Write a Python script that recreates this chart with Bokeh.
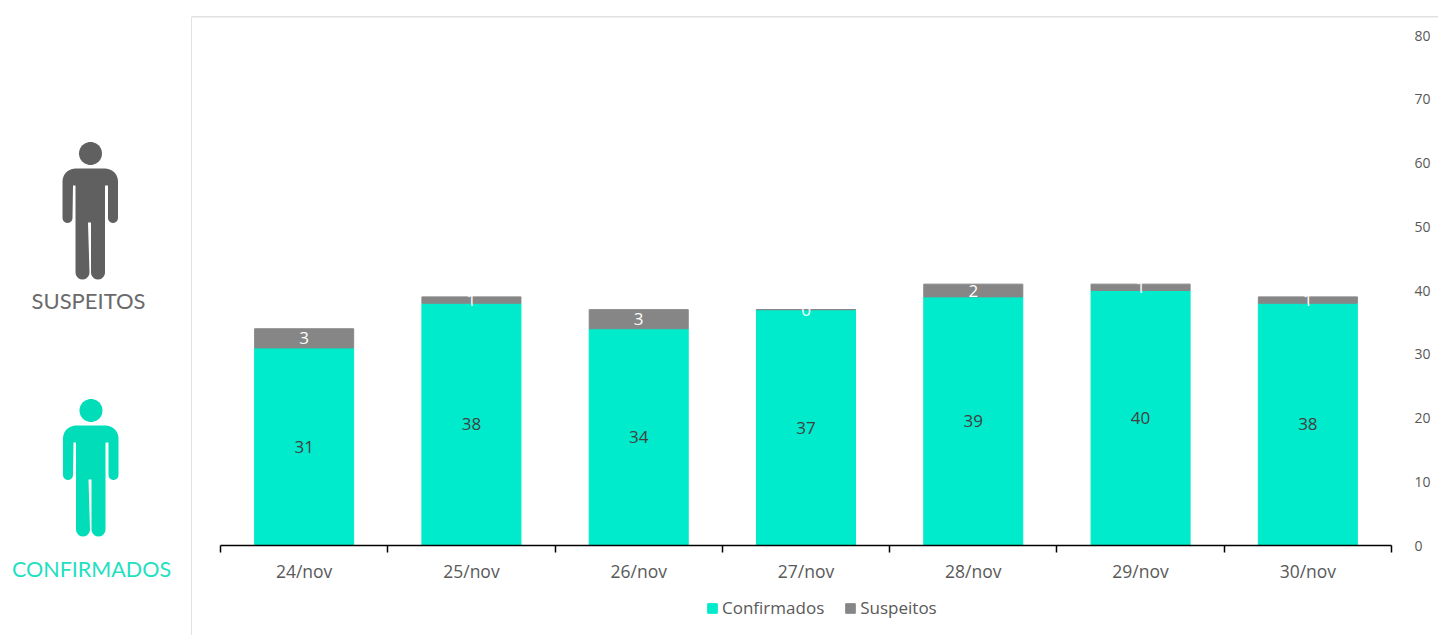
import math
from bokeh.plotting import figure
from bokeh.layouts import row, column
from bokeh.embed import file_html
from bokeh.resources import INLINE
from bokeh.models import (ColumnDataSource, Range1d, LinearAxis, FixedTicker, Legend, LegendItem)
from bokeh.core.properties import value

dates = ["24/nov", "25/nov", "26/nov", "27/nov", "28/nov", "29/nov", "30/nov"]
confirmados = [31, 38, 34, 37, 39, 40, 38]
suspeitos = [3, 1, 3, 0, 2, 1, 1]
y_ticks = [0, 10, 20, 30, 40, 50, 60, 70, 80]
series_names = ["Confirmados", "Suspeitos"]

TEAL = "#00EBCB"
GRAY = "#868686"
BORDER = "#e2e2e2"
TEXT = "#595959"
FONT = "Open Sans"
H = 635
LEFT_W = 192
RIGHT_W = 1438 - LEFT_W
TOP_H = 16
CHART_H = 574
LEG_H = H - TOP_H - CHART_H

centers = [i + 0.5 for i in range(len(dates))]
edge_ticks = list(range(len(dates) + 1))


def blank(width, height, x_range, y_range):
    f = figure(width=width, height=height, output_backend="svg", toolbar_location=None,
               x_range=x_range, y_range=y_range, x_axis_location=None, y_axis_location=None,
               min_border=0, outline_line_color=None)
    f.grid.visible = False
    return f


# ---- left panel: pictograms and their captions (page px, y down)
L = blank(LEFT_W, H, Range1d(0, LEFT_W), Range1d(H, 0))


def arc(cx, cy, r, a0, a1, n=10):
    return [(cx + r * math.cos(math.radians(a0 + (a1 - a0) * i / n)),
             cy + r * math.sin(math.radians(a0 + (a1 - a0) * i / n))) for i in range(n + 1)]


def person(dx, dy, color):
    pts = []
    pts += arc(62 + 13, 168 + 13, 13, 180, 270)
    pts += arc(117.5 - 13, 168 + 13, 13, 270, 360)
    pts += arc(112.5, 217.5, 5, 0, 180)
    pts += [(107.5, 185), (104.5, 185)]
    pts += arc(97.5, 272, 7, 0, 180)
    pts += [(90.5, 222), (87.5, 222)]
    pts += arc(82, 272, 7, 0, 180)
    pts += [(75, 185), (72.5, 185)]
    pts += arc(67, 217.5, 5, 0, 180)
    head = arc(90, 153, 11.5, 0, 360, 48)
    for shape in (pts, head):
        L.patch([x + dx for x, _ in shape], [y + dy for _, y in shape], fill_color=color, line_color=None)


person(0, 0, "#606060")
person(0.5, 257, "#00DDB8")
L.text(x=[88], y=[300], text=["SUSPEITOS"], text_font=value("Lato"), text_font_size="22px",
       text_color="#6a6a6a", text_align="center", text_baseline="middle")
L.text(x=[91], y=[568], text=["CONFIRMADOS"], text_font=value("Lato"), text_font_size="21.5px",
       text_color="#1fe0c0", text_align="center", text_baseline="middle")
# left border line of the chart panel
L.line(x=[191.25, 191.25], y=[16, H], line_color=BORDER, line_width=1.5)

# ---- top strip: its lower edge draws the upper border of the chart panel
T = blank(RIGHT_W, TOP_H, Range1d(0, RIGHT_W), Range1d(TOP_H, 0))
T.styles = {"box-shadow": f"0 1.5px 0 {BORDER}", "position": "relative", "z-index": "5"}

# ---- chart
C = blank(RIGHT_W, CHART_H, Range1d(0, len(dates)), Range1d(0, 80))
C.min_border_left = 220 - LEFT_W
C.min_border_right = 1438 - 1391
C.min_border_top = 35 - TOP_H
C.min_border_bottom = TOP_H + CHART_H - 545

src = ColumnDataSource(dict(
    d=centers, Confirmados=confirmados, Suspeitos=suspeitos,
    cy=[c / 2 for c in confirmados],
    sy=[c + s / 2 for c, s in zip(confirmados, suspeitos)],
    ct=[str(c) for c in confirmados], st=[str(s) for s in suspeitos]))
C.vbar_stack(series_names, x="d", width=0.592, color=[TEAL, GRAY], source=src)
C.text(x="d", y="cy", text="ct", source=src, text_align="center", text_baseline="middle",
       text_font=value(FONT), text_font_size="17px", text_color="#404040")
C.text(x="d", y="sy", text="st", source=src, text_align="center", text_baseline="middle",
       text_font=value(FONT), text_font_size="17px", text_color="#ffffff")

# tick marks sit on category boundaries, labels on category centres
edges = LinearAxis(ticker=FixedTicker(ticks=edge_ticks),
                   major_label_overrides={t: "" for t in edge_ticks}, major_tick_out=7, major_tick_in=0,
                   minor_tick_line_color=None, axis_line_color="#000000", major_tick_line_color="#000000",
                   axis_line_width=1.5, major_tick_line_width=1.5, major_label_standoff=0)
C.add_layout(edges, "below")
cat = LinearAxis(ticker=FixedTicker(ticks=centers), axis_line_color=None, major_tick_line_color=None,
                 minor_tick_line_color=None, major_label_standoff=0,
                 major_label_overrides=dict(zip(centers, dates)),
                 major_label_text_font=FONT, major_label_text_font_size="17.5px",
                 major_label_text_color=TEXT)
C.add_layout(cat, "below")
yax = LinearAxis(ticker=FixedTicker(ticks=y_ticks), axis_line_color=None, major_tick_line_color=None,
                 minor_tick_line_color=None, major_label_standoff=17, major_label_text_font=FONT,
                 major_label_text_font_size="14px", major_label_text_color=TEXT)
C.add_layout(yax, "right")

# ---- legend strip: proxy quads lie outside the strip's ranges, only their legend keys show
B = blank(RIGHT_W, LEG_H, Range1d(0, RIGHT_W), Range1d(0, LEG_H))
k1 = B.quad(left=[-100], right=[-99], bottom=[-100], top=[-99], fill_color=TEAL, line_color=TEAL)
k2 = B.quad(left=[-100], right=[-99], bottom=[-100], top=[-99], fill_color=GRAY, line_color=GRAY)
legend = Legend(items=[LegendItem(label=series_names[0], renderers=[k1]),
                       LegendItem(label=series_names[1], renderers=[k2])],
                orientation="horizontal", location=(708 - 220 - 2, 16), border_line_color=None,
                background_fill_alpha=0, glyph_width=12, glyph_height=12, spacing=20, padding=2, margin=0,
                label_text_font=FONT, label_text_font_size="17px", label_text_color=TEXT,
                label_standoff=4)
B.add_layout(legend, "center")

layout = row(L, column(T, C, B, spacing=0), spacing=0)
open("out.html", "w").write(file_html(layout, INLINE))
